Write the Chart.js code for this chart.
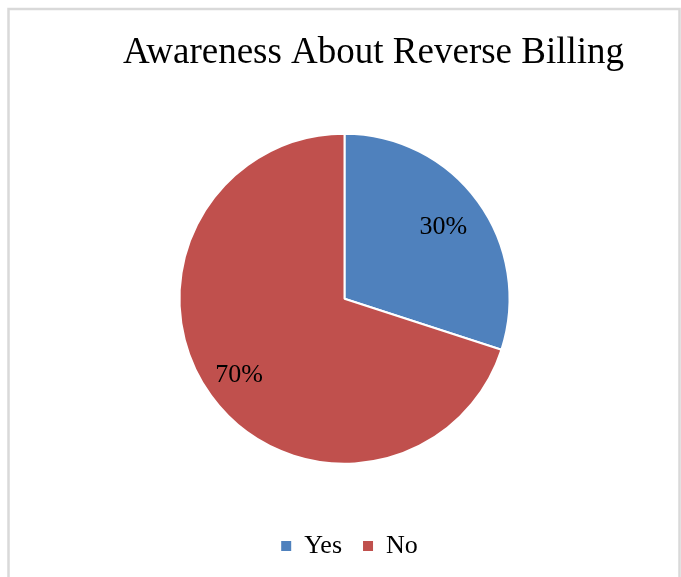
<!DOCTYPE html>
<html>
<head>
<meta charset="utf-8">
<script src="https://cdn.jsdelivr.net/npm/chart.js@4"></script>
<style>
  body { margin: 0; background: #fff; }
  canvas { display: block; }
</style>
</head>
<body>
<canvas id="awarenessChart" width="681" height="577"></canvas>
<script>
const categories = ['Yes', 'No'];
const shares = [30, 70];
const sliceColors = ['#4F81BD', '#C0504D'];

const SERIF = "'Liberation Serif', 'Times New Roman', serif";

// outer frame like the office chart box
const framePlugin = {
    id: 'frame',
    beforeDraw(chart) {
        const ctx = chart.ctx;
        ctx.save();
        ctx.fillStyle = '#fff';
        ctx.fillRect(0, 0, chart.width, chart.height);
        ctx.strokeStyle = '#d9d9d9';
        ctx.lineWidth = 2.5;
        ctx.strokeRect(8.5, 9, 671, 600);
        ctx.restore();
    }
};

// move title and legend boxes off the pie centre
const shiftPlugin = {
    id: 'shift',
    afterLayout(chart) {
        const t = chart.titleBlock;
        if (t) { t.left = 373.5 - 300; t.right = 373.5 + 300; }
        const l = chart.legend;
        if (l) { l.left = 349.5 - 150; l.right = 349.5 + 150; }
    }
};

// percentage labels inside the slices
const labelPlugin = {
    id: 'pctLabels',
    afterDatasetsDraw(chart, args, opts) {
        const ctx = chart.ctx;
        const meta = chart.getDatasetMeta(0);
        ctx.save();
        ctx.font = '26px ' + SERIF;
        ctx.fillStyle = '#000';
        ctx.textAlign = 'center';
        ctx.textBaseline = 'middle';
        meta.data.forEach((arc, i) => {
            const p = arc.getProps(['x', 'y', 'startAngle', 'endAngle', 'outerRadius'], true);
            const mid = (p.startAngle + p.endAngle) / 2;
            const r = p.outerRadius * opts.radius[i];
            ctx.fillText(shares[i] + '%', p.x + Math.cos(mid) * r, p.y + Math.sin(mid) * r);
        });
        ctx.restore();
    }
};

const ctx = document.getElementById('awarenessChart').getContext('2d');
new Chart(ctx, {
    type: 'pie',
    data: {
        labels: categories,
        datasets: [{
            data: shares,
            backgroundColor: sliceColors,
            borderColor: '#ffffff',
            borderWidth: 2,
            radius: 165,
            hoverOffset: 0,
            offset: 0
        }]
    },
    options: {
        responsive: false,
        animation: false,
        layout: {
            padding: { left: 180, right: 172, top: 0, bottom: 8 }
        },
        plugins: {
            title: {
                display: true,
                text: 'Awareness About Reverse Billing',
                color: '#000',
                font: { family: SERIF, size: 37, weight: 'normal', lineHeight: 1.2 },
                padding: { top: 31, bottom: 10 }
            },
            legend: {
                position: 'bottom',
                labels: {
                    color: '#000',
                    font: { family: SERIF, size: 26 },
                    boxWidth: 10,
                    boxHeight: 10,
                    padding: 21,
                    generateLabels: (chart) =>
                        Chart.overrides.pie.plugins.legend.labels.generateLabels(chart)
                            .map(item => ({ ...item, lineWidth: 0 }))
                }
            },
            tooltip: { enabled: false },
            pctLabels: { radius: [0.74, 0.79] }
        }
    },
    plugins: [framePlugin, shiftPlugin, labelPlugin]
});
</script>
</body>
</html>
